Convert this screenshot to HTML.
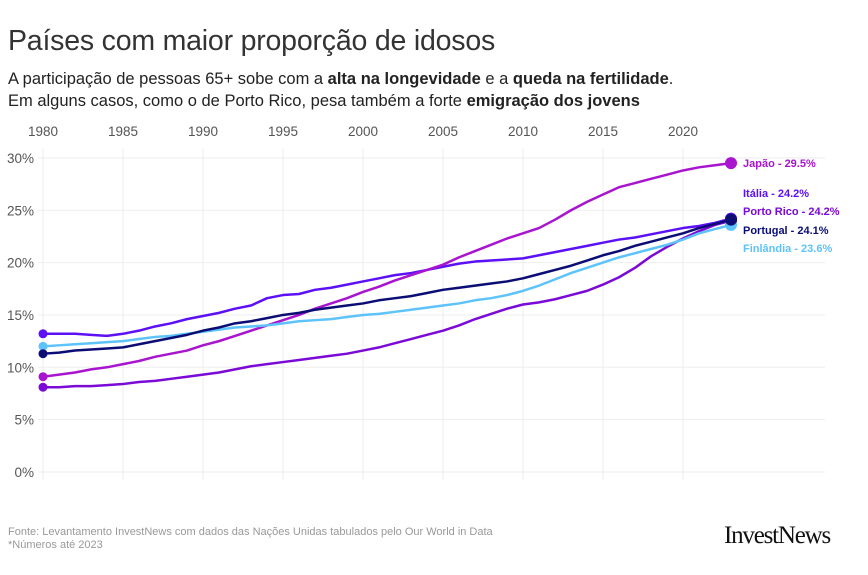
<!DOCTYPE html>
<html><head><meta charset="utf-8">
<style>
body{margin:0;background:#fff;width:868px;height:575px;overflow:hidden;font-family:"Liberation Sans",sans-serif}
.t{position:absolute;left:8px;top:25px;font-size:28.5px;color:#333;letter-spacing:-0.2px}
.s{position:absolute;left:8px;top:68px;font-size:16.5px;color:#222;line-height:22px}
.f{position:absolute;left:8px;top:526px;font-size:11px;color:#999;line-height:13px}
.logo{position:absolute;left:724px;top:522px;font-family:"Liberation Serif",serif;font-size:25px;color:#111;letter-spacing:-1.2px}
</style></head><body>
<div class="t">Países com maior proporção de idosos</div>
<div class="s">A participação de pessoas 65+ sobe com a <b>alta na longevidade</b> e a <b>queda na fertilidade</b>.<br>Em alguns casos, como o de Porto Rico, pesa também a forte <b>emigração dos jovens</b></div>
<svg id="c" width="868" height="575" style="position:absolute;left:0;top:0"></svg>
<div class="f">Fonte: Levantamento InvestNews com dados das Nações Unidas tabulados pelo Our World in Data<br>*Números até 2023</div>
<div class="logo">InvestNews</div>
<script>
const years=[];for(let y=1980;y<=2023;y++)years.push(y);
const xTicks=[1980,1985,1990,1995,2000,2005,2010,2015,2020];
const yTicks=[0,5,10,15,20,25,30];
const japan=[9.1,9.3,9.5,9.8,10.0,10.3,10.6,11.0,11.3,11.6,12.1,12.5,13.0,13.5,14.0,14.5,15.0,15.6,16.1,16.6,17.2,17.7,18.3,18.8,19.3,19.8,20.5,21.1,21.7,22.3,22.8,23.3,24.1,25.0,25.8,26.5,27.2,27.6,28.0,28.4,28.8,29.1,29.3,29.5];
const italy=[13.2,13.2,13.2,13.1,13.0,13.2,13.5,13.9,14.2,14.6,14.9,15.2,15.6,15.9,16.6,16.9,17.0,17.4,17.6,17.9,18.2,18.5,18.8,19.0,19.3,19.6,19.9,20.1,20.2,20.3,20.4,20.7,21.0,21.3,21.6,21.9,22.2,22.4,22.7,23.0,23.3,23.5,23.8,24.2];
const pr=[8.1,8.1,8.2,8.2,8.3,8.4,8.6,8.7,8.9,9.1,9.3,9.5,9.8,10.1,10.3,10.5,10.7,10.9,11.1,11.3,11.6,11.9,12.3,12.7,13.1,13.5,14.0,14.6,15.1,15.6,16.0,16.2,16.5,16.9,17.3,17.9,18.6,19.5,20.6,21.5,22.3,23.0,23.6,24.0];
const portugal=[11.3,11.4,11.6,11.7,11.8,11.9,12.2,12.5,12.8,13.1,13.5,13.8,14.2,14.4,14.7,15.0,15.2,15.5,15.7,15.9,16.1,16.4,16.6,16.8,17.1,17.4,17.6,17.8,18.0,18.2,18.5,18.9,19.3,19.7,20.2,20.7,21.1,21.6,22.0,22.4,22.8,23.3,23.7,24.1];
const finland=[12.0,12.1,12.2,12.3,12.4,12.5,12.7,12.9,13.0,13.2,13.4,13.6,13.8,13.9,14.0,14.2,14.4,14.5,14.6,14.8,15.0,15.1,15.3,15.5,15.7,15.9,16.1,16.4,16.6,16.9,17.3,17.8,18.4,19.0,19.5,20.0,20.5,20.9,21.3,21.7,22.2,22.8,23.2,23.6];
const names=["Japão - 29.5%","Itália - 24.2%","Porto Rico - 24.2%","Portugal - 24.1%","Finlândia - 23.6%"];
const colors=["#a914cf","#5c10f5","#7b0ad6","#0b0d75","#5dc3fa"];
const series=[japan,italy,pr,portugal,finland];
const labelY=[163,193,211,230,248];
const X=y=>43+(y-1980)*16, Y=v=>472-v*10.47;
const svg=document.getElementById('c');const NS='http://www.w3.org/2000/svg';
function mk(t,a){const e=document.createElementNS(NS,t);for(const k in a)e.setAttribute(k,a[k]);svg.appendChild(e);return e;}
yTicks.forEach(v=>{const l=mk('line',{x1:38,x2:825,y1:Y(v),y2:Y(v),stroke:'#eee'});


const t=mk('text',{x:34,y:Y(v)+5,'text-anchor':'end','font-size':13.5,fill:'#555'});t.textContent=v+'%';

});
xTicks.forEach(v=>{const l=mk('line',{x1:X(v),x2:X(v),y1:148,y2:480,stroke:'#eee'});


const t=mk('text',{x:X(v),y:136,'text-anchor':'middle','font-size':13.5,fill:'#555'});t.textContent=v;

});
[2,1,0,4,3].forEach(i=>{const d=series[i];const c=colors[i];
const p=mk('path',{d:d.map((v,j)=>(j?'L':'M')+X(years[j])+','+Y(v)).join(''),fill:'none',stroke:c,'stroke-width':2.5,'stroke-linejoin':'round'});


const s=mk('circle',{cx:X(years[0]),cy:Y(d[0]),r:4.5,fill:c});


const e=mk('circle',{cx:X(years[years.length-1]),cy:Y(d[d.length-1]),r:6,fill:c});


const t=mk('text',{x:743,y:labelY[i]+4,'font-size':11,'font-weight':'bold',fill:c});t.textContent=names[i];

});
</script>
</body></html>
